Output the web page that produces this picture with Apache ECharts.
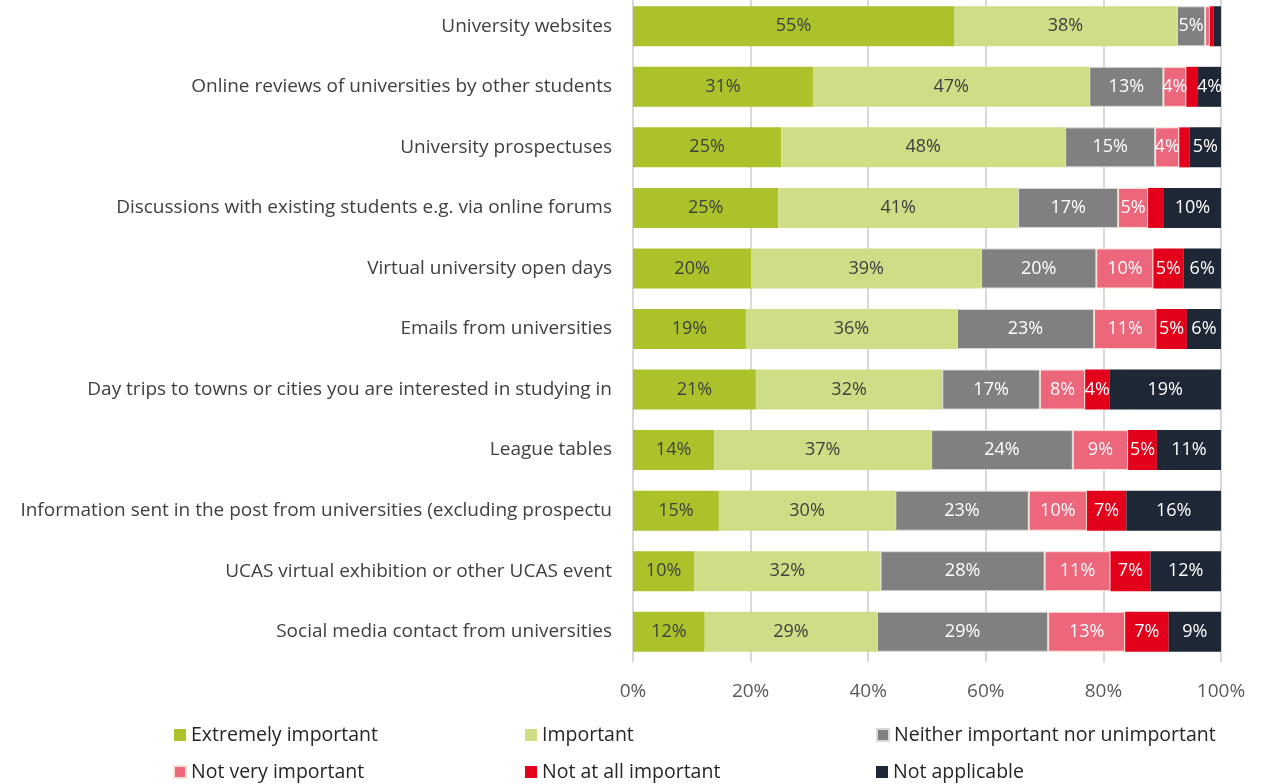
<!DOCTYPE html>
<html>
<head>
<meta charset="utf-8">
<script src="https://cdn.jsdelivr.net/npm/echarts@6/dist/echarts.min.js"></script>
<style>
  html, body { margin: 0; padding: 0; background: #ffffff; }
  #chart { width: 1262px; height: 784px; }
</style>
</head>
<body>
<div id="chart"></div>
<script>
const categories = [
  "University websites",
  "Online reviews of universities by other students",
  "University prospectuses",
  "Discussions with existing students e.g. via online forums",
  "Virtual university open days",
  "Emails from universities",
  "Day trips to towns or cities you are interested in studying in",
  "League tables",
  "Information sent in the post from universities (excluding prospectu",
  "UCAS virtual exhibition or other UCAS event",
  "Social media contact from universities"
];
const seriesNames = [
  "Extremely important",
  "Important",
  "Neither important nor unimportant",
  "Not very important",
  "Not at all important",
  "Not applicable"
];
const extremelyImportant = [54.6, 30.6, 25.2, 24.7, 20.1, 19.2, 20.9, 13.8, 14.6, 10.4, 12.2];
const important          = [37.9, 47.0, 48.3, 40.8, 39.1, 35.9, 31.7, 36.9, 30.0, 31.7, 29.3];
const neither            = [4.8, 12.6, 15.3, 17.0, 19.6, 23.3, 16.6, 24.1, 22.7, 27.9, 29.1];
const notVery            = [0.8, 3.9, 4.1, 5.1, 9.7, 10.6, 7.7, 9.4, 9.9, 11.2, 13.1];
const notAtAll           = [0.6, 2.0, 1.8, 2.7, 5.1, 5.2, 4.1, 4.9, 6.7, 6.8, 7.4];
const notApplicable      = [1.3, 3.9, 5.3, 9.7, 6.4, 5.8, 19.0, 10.9, 16.1, 12.0, 8.9];
const xTicks = [0, 20, 40, 60, 80, 100];

const values = [extremelyImportant, important, neither, notVery, notAtAll, notApplicable];
const colors = ["#ADC22A", "#CEDD86", "#808080", "#EC677C", "#E2001A", "#1E2735"];
const labelColors = ["#404040", "#404040", "#ffffff", "#ffffff", "#ffffff", "#ffffff"];
const borderColors = [null, null, "#d8d8d8", "#FBE2D5", null, null];
const FONT = "Open Sans";

const chart = echarts.init(document.getElementById('chart'), null, { renderer: 'canvas' });

const series = values.map((arr, i) => ({
  name: seriesNames[i],
  type: 'bar',
  stack: 'total',
  barWidth: 40,
  data: arr,
  itemStyle: {
    color: colors[i],
    borderColor: borderColors[i] || colors[i],
    borderWidth: borderColors[i] ? 1 : 0
  },
  label: {
    show: true,
    position: 'inside',
    color: labelColors[i],
    fontFamily: FONT,
    fontSize: 18,
    formatter: p => (p.value >= 3.5 ? Math.round(p.value) + '%' : '')
  },
  emphasis: { disabled: true }
}));

chart.setOption({
  animation: false,
  backgroundColor: '#ffffff',
  grid: { left: 633, right: 41, top: -4, bottom: 122, containLabel: false, outerBoundsMode: 'none' },
  xAxis: {
    type: 'value',
    min: 0,
    max: 100,
    interval: 20,
    axisLine: { show: false },
    axisTick: { show: false },
    splitLine: { show: true, lineStyle: { color: '#D9D9D9', width: 2 } },
    axisLabel: {
      color: '#595959',
      fontFamily: FONT,
      fontSize: 19,
      margin: 20,
      formatter: v => (xTicks.includes(v) ? v + '%' : '')
    }
  },
  yAxis: {
    type: 'category',
    inverse: true,
    data: categories,
    axisLine: { show: false },
    axisTick: { show: false },
    axisLabel: {
      color: '#404040',
      fontFamily: FONT,
      fontSize: 19,
      margin: 21
    }
  },
  legend: {
    left: 173,
    top: 724,
    width: 1070,
    padding: 0,
    itemWidth: 12,
    itemHeight: 12,
    itemGap: 15,
    icon: 'rect',
    selectedMode: false,
    textStyle: {
      color: '#262626',
      fontFamily: FONT,
      fontSize: 19.5,
      width: 319,
      lineHeight: 22,
      padding: [0, 0, 0, 0]
    },
    data: seriesNames
  },
  series: series
});
</script>
</body>
</html>
